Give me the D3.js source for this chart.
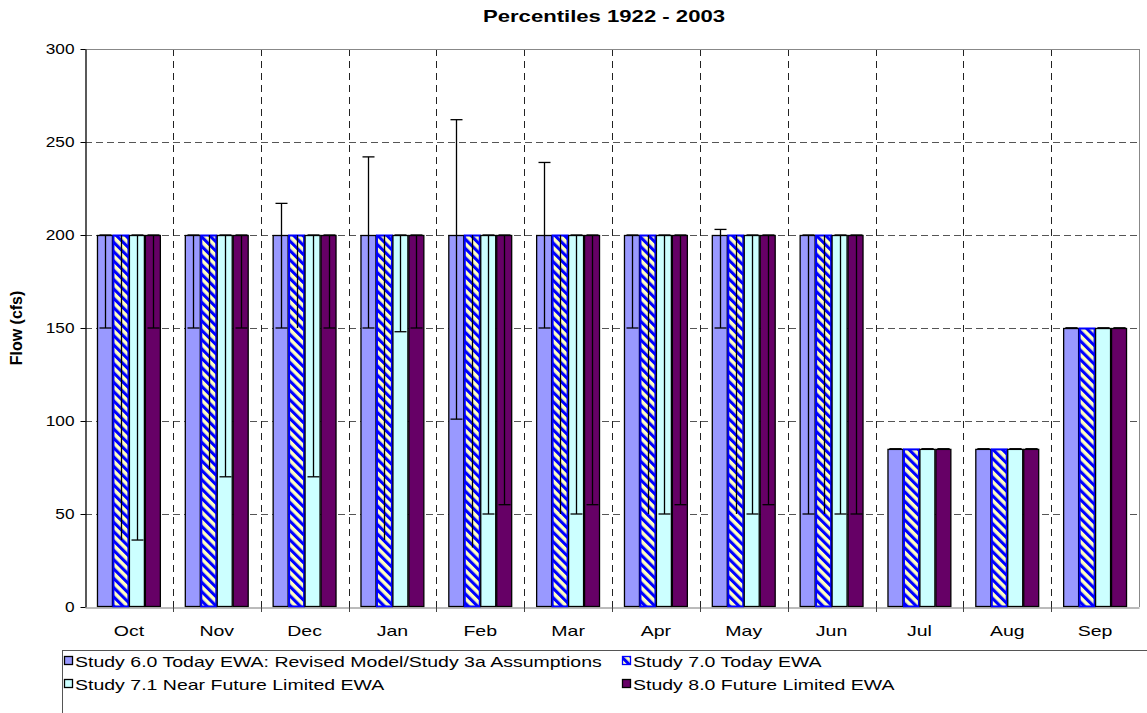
<!DOCTYPE html>
<html><head><meta charset="utf-8">
<script src="https://cdn.jsdelivr.net/npm/d3@7"></script>
<style>body{margin:0;background:#fff}svg{display:block;font-family:"Liberation Sans",Arial,sans-serif}</style>
</head><body><svg id="c" width="1147" height="713"></svg>
<script>
const months = ["Oct","Nov","Dec","Jan","Feb","Mar","Apr","May","Jun","Jul","Aug","Sep"];
const seriesNames = ["Study 6.0 Today EWA: Revised Model/Study 3a Assumptions","Study 7.0 Today EWA","Study 7.1 Near Future Limited EWA","Study 8.0 Future Limited EWA"];
const s60 = [200,200,200,200,200,200,200,200,200,85,85,150];
const s70 = [200,200,200,200,200,200,200,200,200,85,85,150];
const s71 = [200,200,200,200,200,200,200,200,200,85,85,150];
const s80 = [200,200,200,200,200,200,200,200,200,85,85,150];
const s60Low  = [150,150,150,150,101,150,150,150,50,85,85,150];
const s60High = [200,200,217,242,262,239,200,203,200,85,85,150];
const s70Low  = [36,74,150,36,32,50,50,50,50,85,85,150];
const s70High = [200,200,200,200,200,200,200,200,200,85,85,150];
const s71Low  = [36,70,70,148,50,50,50,50,50,85,85,150];
const s71High = [200,200,200,200,200,200,200,200,200,85,85,150];
const s80Low  = [150,150,150,150,55,55,55,55,50,85,85,150];
const s80High = [200,200,200,200,200,200,200,200,200,85,85,150];
const yTicks = [0,50,100,150,200,250,300];
const title = "Percentiles 1922 - 2003";
const yLabel = "Flow (cfs)";

const series = [
  {name:seriesNames[0], vals:s60, lo:s60Low, hi:s60High, fill:"#9999FF", stroke:"#000", sw:1.3, cap:true},
  {name:seriesNames[1], vals:s70, lo:s70Low, hi:s70High, fill:"url(#hatch)", stroke:"#0000FF", sw:2, cap:false},
  {name:seriesNames[2], vals:s71, lo:s71Low, hi:s71High, fill:"#CCFFFF", stroke:"#000", sw:1.3, cap:true},
  {name:seriesNames[3], vals:s80, lo:s80Low, hi:s80High, fill:"#660066", stroke:"#000", sw:1.3, cap:true}
];
const K = 1.3; // horizontal text stretch
function stretch(sel,k){
  sel.each(function(){
    const w=this.getComputedTextLength();
    d3.select(this).attr("textLength",w*k).attr("lengthAdjust","spacingAndGlyphs");
  });
}

const svg = d3.select("#c");
const L=85, R=1139, T=49, B=607;
const defs = svg.append("defs");
const pat = defs.append("pattern").attr("id","hatch").attr("patternUnits","userSpaceOnUse")
  .attr("width",6.6).attr("height",6.6).attr("patternTransform","rotate(-45)");
pat.append("rect").attr("width",6.6).attr("height",6.6).attr("fill","#FFFFC0");
pat.append("rect").attr("width",3.1).attr("height",6.6).attr("fill","#0000FF");

const x0 = d3.scaleBand().domain(months).range([L,R]).padding(0);
const bw = x0.bandwidth();
const gap = bw*0.75/5.5;
const x1 = d3.scaleBand().domain(d3.range(4)).range([gap,bw-gap]).padding(0);
const y = d3.scaleLinear().domain([0,300]).range([B,T]);

// gridlines
svg.append("g").selectAll("line").data(yTicks.filter(t=>t>0)).join("line")
  .attr("x1",L).attr("x2",R).attr("y1",d=>y(d)+0.5).attr("y2",d=>y(d)+0.5)
  .attr("stroke","#555").attr("stroke-dasharray","7,4");
svg.append("g").selectAll("line").data(months.slice(1)).join("line")
  .attr("x1",d=>Math.round(x0(d))+0.5).attr("x2",d=>Math.round(x0(d))+0.5).attr("y1",T).attr("y2",B)
  .attr("stroke","#222").attr("stroke-dasharray","7,5");
svg.append("line").attr("x1",L).attr("x2",R).attr("y1",T+0.5).attr("y2",T+0.5).attr("stroke","#888");
svg.append("line").attr("x1",R+0.5).attr("x2",R+0.5).attr("y1",T).attr("y2",B).attr("stroke","#888");

// bars
const groups = svg.append("g").selectAll("g").data(series).join("g");
groups.each(function(s,si){
  d3.select(this).selectAll("rect").data(months).join("rect")
    .attr("x",(m)=>x0(m)+x1(si)+0.5).attr("width",x1.bandwidth()-1)
    .attr("y",(m,i)=>y(s.vals[i])+0.5).attr("height",(m,i)=>B-y(s.vals[i])-1)
    .attr("fill",s.fill).attr("stroke",s.stroke).attr("stroke-width",s.sw);
});
// error bars
series.forEach((s,si)=>{
  const g = svg.append("g").attr("stroke","#000").attr("stroke-width",1.3);
  months.forEach((m,i)=>{
    const cx = Math.round(x0(m)+x1(si)+x1.bandwidth()/2)+0.5;
    g.append("line").attr("x1",cx).attr("x2",cx).attr("y1",y(s.hi[i])).attr("y2",y(s.lo[i]));
    if(s.cap){
      [s.hi[i],s.lo[i]].forEach(v=>{
        g.append("line").attr("x1",cx-6).attr("x2",cx+6).attr("y1",y(v)).attr("y2",y(v));
      });
    }
  });
});

// axes
const yAxis = svg.append("g").attr("transform",`translate(${L+0.5},0)`)
  .call(d3.axisLeft(y).tickValues(yTicks).tickSize(5).tickSizeOuter(0));
yAxis.select(".domain").attr("stroke","#000").attr("stroke-width",1.3);
yAxis.selectAll("text").attr("font-size",15).attr("fill","#000").attr("dx","-3").attr("font-family","Liberation Sans, Arial, sans-serif");
stretch(yAxis.selectAll("text"),1.15);
const xAxis = svg.append("g").attr("transform",`translate(0,${B+0.5})`)
  .call(d3.axisBottom(x0).tickSize(0).tickSizeOuter(0));
xAxis.select(".domain").attr("stroke","#777");
xAxis.selectAll("text").attr("font-size",15).attr("fill","#000").attr("dy","1.7em").attr("font-family","Liberation Sans, Arial, sans-serif");
stretch(xAxis.selectAll("text"),K);
svg.append("g").selectAll("line").data(months.slice(1)).join("line")
  .attr("x1",d=>Math.round(x0(d))+0.5).attr("x2",d=>Math.round(x0(d))+0.5).attr("y1",B).attr("y2",B+5)
  .attr("stroke","#444");

// title
stretch(svg.append("text").attr("x",604).attr("y",22).attr("text-anchor","middle")
  .attr("font-size",17).attr("font-weight","bold").text(title),K);
svg.append("text").attr("transform","translate(22,328) rotate(-90)").attr("text-anchor","middle")
  .attr("font-size",16).attr("font-weight","bold").text(yLabel);

// legend
const lg = svg.append("g");
lg.append("rect").attr("x",62.5).attr("y",650.5).attr("width",1200).attr("height",100)
  .attr("fill","#fff").attr("stroke","#555");
const pos = [[64,667],[622,667],[64,690],[622,690]];
series.forEach((s,i)=>{
  const [px,py]=pos[i];
  lg.append("rect").attr("x",px+0.5).attr("y",py-10.5).attr("width",8).attr("height",8)
    .attr("fill",s.fill).attr("stroke",s.stroke).attr("stroke-width",1.3);
  stretch(lg.append("text").attr("x",px+11).attr("y",py).attr("font-size",15).text(s.name),K);
});
</script></body></html>
